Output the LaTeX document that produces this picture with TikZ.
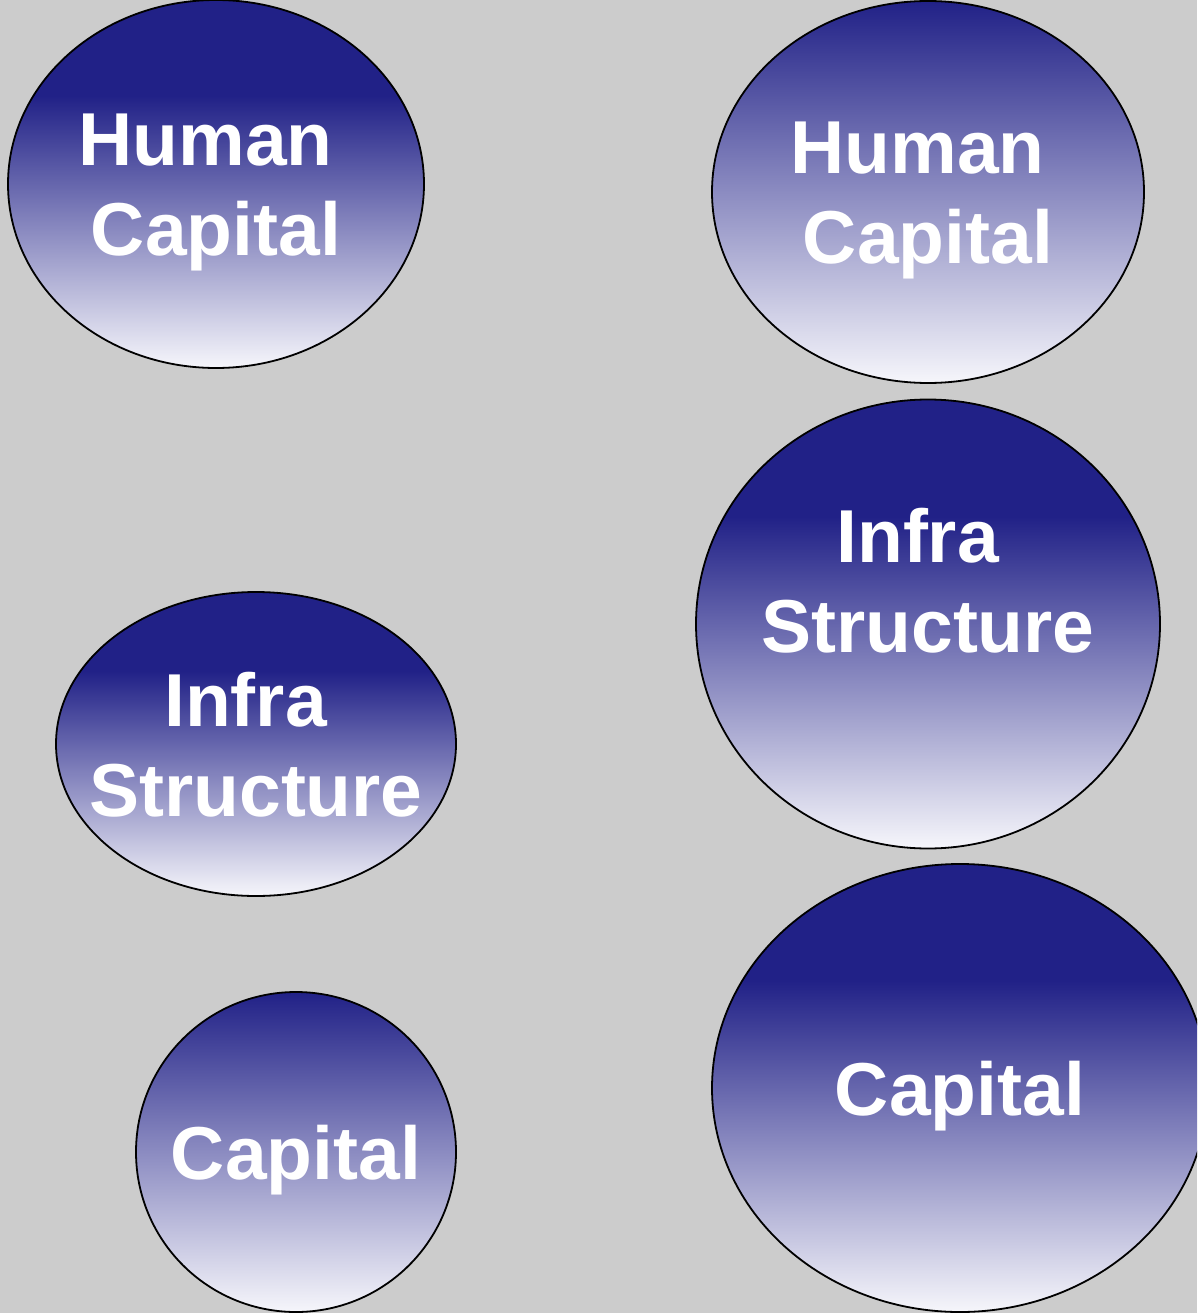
\documentclass[tikz,border=0pt]{standalone}
\usepackage{fontspec}
\setmainfont{Liberation Sans}
\usetikzlibrary{shapes.geometric}

\definecolor{navy}{HTML}{212187}
\definecolor{fadewhite}{HTML}{F6F6FB}
\definecolor{slide}{HTML}{CCCCCC}
% band of solid navy on top, then fade
\pgfdeclareverticalshading{navyband}{100bp}{color(0bp)=(fadewhite); color(25bp)=(fadewhite); color(62bp)=(navy); color(100bp)=(navy)}
% plain fade from the top
\pgfdeclareverticalshading{navyramp}{100bp}{color(0bp)=(fadewhite); color(25bp)=(fadewhite); color(75bp)=(navy); color(100bp)=(navy)}

\begin{document}
\begin{tikzpicture}[x=1pt,y=-1pt,
  blob/.style={ellipse,draw=black,line width=1.8pt,shade,shading=navyband,inner sep=0pt},
  lbl/.style={text=white,font=\bfseries\fontsize{75}{90}\selectfont,align=center,inner sep=0pt}]
 \useasboundingbox (0,0) rectangle (1197,1313);
 \fill[slide] (0,0) rectangle (1197,1313);
 \clip (0,0) rectangle (1197,1313);

 % left column
 \node[blob,minimum width=416pt,minimum height=368pt] (hc_1) at (216,184) {};
 \node[blob,minimum width=400pt,minimum height=304pt] (infra_1) at (256,744) {};
 \node[blob,shading=navyramp,minimum width=320pt,minimum height=320pt] (cap_1) at (296,1152) {};

 % right column
 \node[blob,shading=navyramp,minimum width=432pt,minimum height=382pt] (hc_2) at (928,192) {};
 \node[blob,minimum width=464pt,minimum height=449pt] (infra_2) at (928,624) {};
 \node[blob,minimum width=496pt,minimum height=448pt] (cap_2) at (960,1088) {};

 \node[lbl] (hc_1t) at ([yshift=-8.5pt]hc_1) {\mbox{Human\ }\\Capital};
 \node[lbl] (infra_1t) at ([yshift=-1pt]infra_1) {\mbox{Infra\ }\\Structure};
 \node[lbl] (cap_1t) at ([yshift=-8pt]cap_1) {Capital};
 \node[lbl] (hc_2t) at ([yshift=-8.5pt]hc_2) {\mbox{Human\ }\\Capital};
 \node[lbl] (infra_2t) at ([yshift=43pt]infra_2) {\mbox{Infra\ }\\Structure};
 \node[lbl] (cap_2t) at ([yshift=-8pt]cap_2) {Capital};
\end{tikzpicture}
\end{document}
